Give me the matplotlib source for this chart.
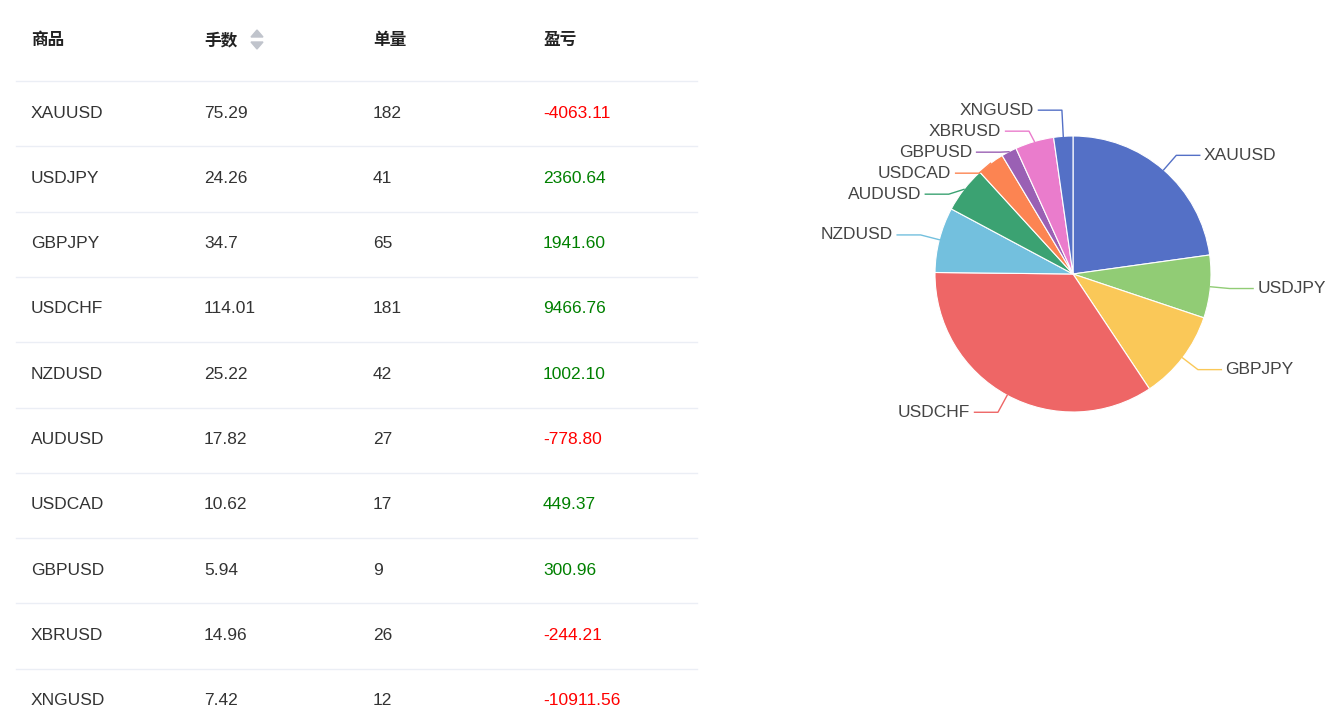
import matplotlib
matplotlib.use("Agg")
import matplotlib.pyplot as plt
import numpy as np

symbols = ["XAUUSD","USDJPY","GBPJPY","USDCHF","NZDUSD","AUDUSD","USDCAD","GBPUSD","XBRUSD","XNGUSD"]
lots = [75.29,24.26,34.7,114.01,25.22,17.82,10.62,5.94,14.96,7.42]
lots_txt = ["75.29","24.26","34.7","114.01","25.22","17.82","10.62","5.94","14.96","7.42"]
orders = [182,41,65,181,42,27,17,9,26,12]
pnl = [-4063.11,2360.64,1941.60,9466.76,1002.10,-778.80,449.37,300.96,-244.21,-10911.56]
headers = ["商品","手数","单量","盈亏"]
colors = ["#5470c6","#91cc75","#fac858","#ee6666","#73c0de","#3ba272","#fc8452","#9a60b4","#ea7ccc","#5470c6"]

FONT = ["Liberation Sans","Noto Sans CJK SC"]
W, H = 1327, 725
fig = plt.figure(figsize=(W/100, H/100), dpi=100)
ax0 = fig.add_axes([0,0,1,1])
ax0.set_xlim(0,W); ax0.set_ylim(H,0); ax0.axis("off")

colx = [31,204,373,543]
for x,h in zip(colx,headers):
    ax0.text(x,40,h,fontsize=12,fontweight="bold",color="#222",va="center",family=["Noto Sans CJK SC"])
# sort icon
ax0.fill([251,263,257],[37,37,30],color="#c0c4cc")
ax0.fill([251,263,257],[42,42,49],color="#c0c4cc")
row_h = 65.3
for i in range(len(symbols)+1):
    y = 81 + row_h*i
    if y < H:
        ax0.plot([16,697],[y,y],color="#ebeef5",lw=1)
for i,s in enumerate(symbols):
    y = 113 + row_h*i
    kw = dict(fontsize=12.5,va="center",family=FONT)
    ax0.text(colx[0],y,s,color="#333",**kw)
    ax0.text(colx[1],y,lots_txt[i],color="#333",**kw)
    ax0.text(colx[2],y,str(orders[i]),color="#333",**kw)
    ax0.text(colx[3],y,f"{pnl[i]:.2f}",color="red" if pnl[i]<0 else "green",**kw)

cx, cy, R = 1073, 274, 138
ax = fig.add_axes([(cx-R)/W,(H-cy-R)/H,2*R/W,2*R/H])
ax.pie(lots,colors=colors,startangle=90,counterclock=False,radius=1,
       wedgeprops=dict(edgecolor="white",linewidth=0.8))
ax.set_xlim(-1,1); ax.set_ylim(-1,1); ax.set_aspect("auto"); ax.axis("off")

tot = sum(lots)
cum = np.cumsum([0]+lots[:-1])
labs = []
for i,v in enumerate(lots):
    th = np.deg2rad(90 - 360*(cum[i]+v/2)/tot)
    ex, ey = 1.14*np.cos(th), 1.14*np.sin(th)
    labs.append([i,th,ex,ey,ey])
gap = 21/R
for side in (1,-1):
    grp = sorted([l for l in labs if np.sign(np.cos(l[1]))==side], key=lambda l:-l[3])
    if side < 0:
        grp[0][4] += 0.05
    for k in range(1,len(grp)):
        if grp[k-1][4]-grp[k][4] < gap:
            grp[k][4] = grp[k-1][4]-gap
for i,th,ex,ey,ly in labs:
    side = 1 if np.cos(th)>=0 else -1
    x0,y0 = np.cos(th),np.sin(th)
    x2 = ex + side*0.17
    ax.plot([x0,ex,x2],[y0,ly,ly],color=colors[i],lw=1,clip_on=False)
    ax.text(x2+side*0.03,ly,symbols[i],fontsize=12.5,color="#444",va="center",
            ha="left" if side>0 else "right",family=FONT,clip_on=False)

fig.savefig("out.png",dpi=100)
